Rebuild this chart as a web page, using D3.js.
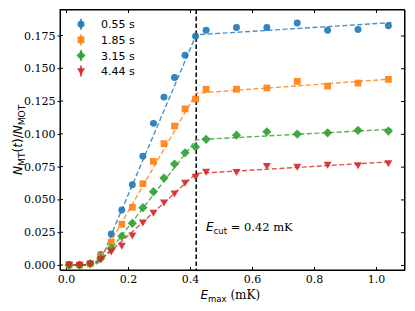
<!DOCTYPE html>
<meta charset="utf-8">
<style>
body { margin: 0; background: #fff; }
.tick text { font: 11px "DejaVu Serif", serif; fill: #000; }
.legText { font: 11px "DejaVu Sans", sans-serif; }
.lab { font-family: "DejaVu Sans", sans-serif; font-size: 12px; }
</style>
<div id="chart"></div>
<script src="https://cdn.jsdelivr.net/npm/d3@7"></script>
<script>
// energies of the truncation (mK)
const eMax = [0.01, 0.044, 0.078, 0.112, 0.146, 0.18, 0.214, 0.248, 0.282, 0.316, 0.35,
              0.384, 0.418, 0.452, 0.55, 0.648, 0.746, 0.844, 0.942, 1.04];

const times = ["0.55 s", "1.85 s", "3.15 s", "4.44 s"];
const colors = ["#1f77b4", "#ff7f0e", "#2ca02c", "#d62728"];

const y055 = [0, 0, 0.001, 0.008, 0.0236, 0.042, 0.0612, 0.083, 0.108, 0.128, 0.143,
              0.160, 0.1745, 0.179, 0.181, 0.181, 0.1845, 0.179, 0.1796, 0.1824];
const y185 = [0, 0, 0.001, 0.007, 0.0175, 0.031, 0.044, 0.062, 0.079, 0.0925, 0.106,
              0.119, 0.1265, 0.134, 0.134, 0.135, 0.140, 0.1364, 0.1387, 0.1415];
const y315 = [0, 0, 0.001, 0.005, 0.0127, 0.022, 0.0318, 0.0437, 0.0559, 0.0663, 0.077,
              0.0856, 0.090, 0.0958, 0.099, 0.1016, 0.0998, 0.1008, 0.1027, 0.1021];
const y444 = [0.0005, 0, 0.001, 0.0045, 0.0104, 0.0147, 0.0226, 0.0325, 0.040, 0.0478, 0.0546,
              0.0627, 0.0673, 0.0712, 0.0709, 0.0755, 0.075, 0.0765, 0.0762, 0.0777];
const series = [y055, y185, y315, y444];

// fitted curves
const fit055 = [[0,0],[0.092,0],[0.105,0.002],[0.12,0.008],[0.14,0.019],[0.16,0.031],[0.42,0.1755],[1.05,0.1848]];
const fit185 = [[0,0],[0.085,0],[0.1,0.003],[0.12,0.009],[0.14,0.016],[0.42,0.131],[1.05,0.1418]];
const fit315 = [[0,0],[0.07,0],[0.09,0.001],[0.11,0.004],[0.13,0.008],[0.15,0.0135],[0.42,0.0955],[1.05,0.1035]];
const fit444 = [[0,0],[0.06,0],[0.08,0.001],[0.1,0.003],[0.12,0.0058],[0.14,0.0095],[0.42,0.0698],[1.05,0.0787]];
const fits = [fit055, fit185, fit315, fit444];

const eCut = 0.42;
const xTicks = [0.0, 0.2, 0.4, 0.6, 0.8, 1.0];
const yTicks = [0, 0.025, 0.05, 0.075, 0.1, 0.125, 0.15, 0.175];

const W = 415, H = 311;
const m = {left: 60, right: 10.5, top: 9.5, bottom: 41};

const svg = d3.select("#chart").append("svg").attr("width", W).attr("height", H);

const x = d3.scaleLinear().domain([-0.0194, 1.092]).range([m.left, W - m.right]);
const y = d3.scaleLinear().domain([-0.0038, 0.1948]).range([H - m.bottom, m.top]);

// axes
const fmtX = d3.format(".1f"), fmtY = d3.format(".3f");
svg.append("g").attr("transform", `translate(0,${H - m.bottom})`)
  .call(d3.axisBottom(x).tickValues(xTicks).tickFormat(fmtX).tickSizeInner(-3).tickSizeOuter(0).tickPadding(5));
svg.append("g").attr("transform", `translate(${m.left},0)`)
  .call(d3.axisLeft(y).tickValues(yTicks).tickFormat(fmtY).tickSizeInner(2.5).tickSizeOuter(0).tickPadding(2));
svg.append("g").attr("transform", `translate(0,${m.top})`)
  .call(d3.axisTop(x).tickValues(xTicks).tickFormat("").tickSizeInner(-3.5).tickSizeOuter(0));
svg.append("g").attr("transform", `translate(${W - m.right},0)`)
  .call(d3.axisRight(y).tickValues(yTicks).tickFormat("").tickSizeInner(-3.5).tickSizeOuter(0));
// inner part of left ticks
svg.append("g").selectAll("line").data(yTicks).enter().append("line")
  .attr("x1", m.left).attr("x2", m.left + 3).attr("y1", d => y(d)).attr("y2", d => y(d))
  .attr("stroke", "#000");
svg.selectAll(".domain").attr("stroke", "#000").attr("stroke-width", 1);
svg.append("rect").attr("x", m.left).attr("y", m.top)
  .attr("width", W - m.right - m.left).attr("height", H - m.bottom - m.top)
  .attr("fill", "none").attr("stroke", "#000").attr("stroke-width", 1);

const plot = svg.append("g");

// cut line
plot.append("line").attr("x1", x(eCut)).attr("x2", x(eCut)).attr("y1", m.top).attr("y2", H - m.bottom)
  .attr("stroke", "#000").attr("stroke-width", 1.5).attr("stroke-dasharray", "4.5,2.5");

// markers
const symPath = [
  d3.symbol(d3.symbolCircle, 38)(),
  "M-3.4,-3.4L3.4,-3.4L3.4,3.4L-3.4,3.4Z",
  "M0,-4.6L4.6,0L0,4.6L-4.6,0Z",
  "M-4,-2.9L4,-2.9L0,4.1Z"
];

const line = d3.line().x(d => x(d[0])).y(d => y(d[1]));

series.forEach((vals, k) => {
  plot.append("path").datum(fits[k]).attr("d", line)
    .attr("fill", "none").attr("stroke", colors[k]).attr("stroke-opacity", 0.8)
    .attr("stroke-width", 1.4).attr("stroke-dasharray", "5,2.5");
  plot.append("g").selectAll("path").data(vals).enter().append("path")
    .attr("d", symPath[k])
    .attr("transform", (d, i) => `translate(${x(eMax[i])},${y(d)})`)
    .attr("fill", colors[k]).attr("fill-opacity", 0.9);
});

// legend
const leg = svg.append("g");
times.forEach((t, k) => {
  const gy = 24.3 + k * 15.6;
  const g = leg.append("g").attr("transform", `translate(81,${gy})`);
  g.append("line").attr("y1", -5.5).attr("y2", 5.5).attr("stroke", colors[k]).attr("stroke-width", 1.5);
  g.append("path").attr("d", symPath[k]).attr("fill", colors[k]).attr("fill-opacity", 0.9);
  leg.append("text").attr("class", "legText").attr("x", 101).attr("y", gy + 4).text(t);
});

// labels
const xl = svg.append("text").attr("class", "lab").attr("x", x(0.53)).attr("y", 299).attr("text-anchor", "middle");
xl.append("tspan").attr("font-style", "italic").text("E");
xl.append("tspan").attr("font-size", "8.5px").attr("dy", 2.5).text("max");
xl.append("tspan").attr("dy", -2.5).attr("font-family", "DejaVu Serif").text(" (mK)");

const yl = svg.append("text").attr("class", "lab").attr("font-size", "13px")
  .attr("transform", `translate(22,${(m.top + H - m.bottom) / 2}) rotate(-90)`).attr("text-anchor", "middle");
yl.append("tspan").attr("font-style", "italic").text("N");
yl.append("tspan").attr("font-size", "9.2px").attr("dy", 2.7).text("MT");
yl.append("tspan").attr("dy", -2.7).text("(");
yl.append("tspan").attr("font-style", "italic").text("t");
yl.append("tspan").text(")/");
yl.append("tspan").attr("font-style", "italic").text("N");
yl.append("tspan").attr("font-size", "9.2px").attr("dy", 2.7).text("MOT");

const an = svg.append("text").attr("class", "lab").attr("x", 206).attr("y", 231);
an.append("tspan").attr("font-style", "italic").text("E");
an.append("tspan").attr("font-size", "8.5px").attr("dy", 2.5).text("cut");
an.append("tspan").attr("dy", -2.5).attr("font-family", "DejaVu Serif").attr("font-size", "11.5px").text(" = 0.42 mK");
</script>
